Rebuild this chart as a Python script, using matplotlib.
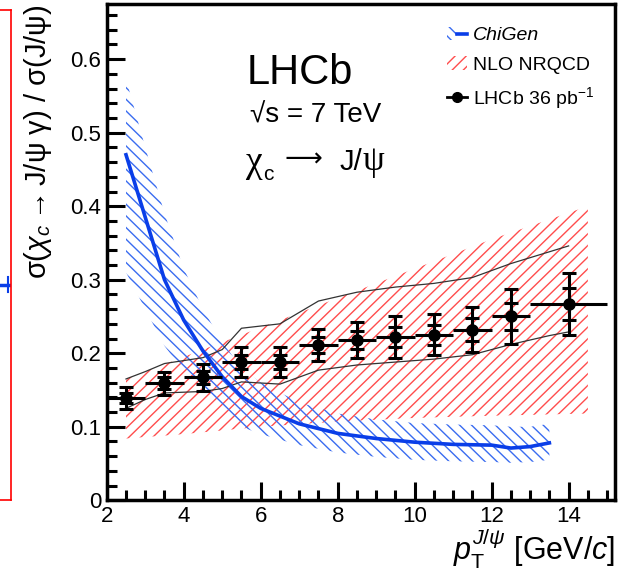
import numpy as np
import matplotlib
matplotlib.use("Agg")
import matplotlib.pyplot as plt
from matplotlib.ticker import MultipleLocator, FuncFormatter
from matplotlib.patches import Rectangle
from matplotlib.lines import Line2D
from matplotlib.legend_handler import HandlerTuple

plt.rcParams['font.family'] = ['Liberation Sans', 'DejaVu Sans']
plt.rcParams['mathtext.fontset'] = 'custom'
plt.rcParams['mathtext.rm'] = 'Liberation Sans'
plt.rcParams['mathtext.it'] = 'Liberation Sans:italic'
plt.rcParams['mathtext.sf'] = 'Liberation Sans'
plt.rcParams['hatch.linewidth'] = 1.0

# LHCb data points (chi_c -> J/psi gamma) / J/psi
pt_x = [2.5, 3.5, 4.5, 5.5, 6.5, 7.5, 8.5, 9.5, 10.5, 11.5, 12.5, 14.0]
pt_lo = [2, 3, 4, 5, 6, 7, 8, 9, 10, 11, 12, 13]
pt_hi = [3, 4, 5, 6, 7, 8, 9, 10, 11, 12, 13, 15]
ratio = [0.139, 0.159, 0.167, 0.188, 0.188, 0.211, 0.218, 0.222, 0.225, 0.232, 0.250, 0.267]
err_tot = [0.015, 0.016, 0.018, 0.020, 0.021, 0.022, 0.024, 0.028, 0.028, 0.031, 0.037, 0.042]
err_stat = [0.007, 0.008, 0.009, 0.010, 0.010, 0.011, 0.012, 0.014, 0.014, 0.016, 0.019, 0.022]

# ChiGen curve and band
chi_x = [2.5, 3.0, 3.5, 4.0, 4.5, 5.0, 5.5, 6.0, 7.0, 8.0, 9.0, 10.0, 11.0, 12.0, 12.5, 13.0, 13.5]
chi_c = [0.47, 0.385, 0.30, 0.245, 0.203, 0.168, 0.141, 0.125, 0.104, 0.091, 0.084, 0.079, 0.076, 0.075, 0.071, 0.073, 0.078]
chi_up = [0.573, 0.48, 0.39, 0.315, 0.26, 0.215, 0.18, 0.16, 0.133, 0.118, 0.110, 0.105, 0.103, 0.102, 0.100, 0.100, 0.104]
chi_dn = [0.31, 0.26, 0.21, 0.175, 0.145, 0.12, 0.10, 0.09, 0.075, 0.065, 0.059, 0.055, 0.053, 0.052, 0.051, 0.052, 0.055]

# NLO NRQCD band
nlo_x = [2.5, 4.0, 6.0, 8.0, 10.0, 12.0, 14.5]
nlo_dn = [0.084, 0.090, 0.100, 0.107, 0.112, 0.115, 0.118]
nlo_up = [0.165, 0.195, 0.235, 0.275, 0.315, 0.355, 0.400]

# thin black lines
bl_x = [2.5, 3.0, 3.5, 4.5, 5.0, 5.5, 6.5, 7.5, 8.5, 9.5, 10.5, 11.5, 12.5, 13.5, 14.0]
bl_up = [0.165, 0.175, 0.186, 0.194, 0.205, 0.234, 0.240, 0.271, 0.283, 0.290, 0.295, 0.303, 0.322, 0.338, 0.346]
bl_dn = [0.125, 0.137, 0.146, 0.148, 0.152, 0.161, 0.158, 0.177, 0.184, 0.188, 0.192, 0.198, 0.212, 0.224, 0.229]

RED = '#ff4d4d'
BLUE = '#3a6cf0'
LINE_BLUE = '#0a3ee8'


def hatch_fill(ax, poly, color, direction, spacing=0.0235, lw=1.0):
    """ Dessine des hachures dans le polygone (en coordonnees axes) """
    poly.set_facecolor('none')
    poly.set_edgecolor('none')
    for c in np.arange(-1.0, 1.0, spacing):
        if direction == '/':
            xs, ys = [c, c + 1.0], [0.0, 1.0]
        else:
            xs, ys = [c, c + 1.0], [1.0, 0.0]
        ln, = ax.plot(xs, ys, transform=ax.transAxes, color=color, lw=lw,
                      solid_capstyle='butt')
        ln.set_clip_path(poly.get_paths()[0], poly.get_transform())


fig = plt.figure(figsize=(6.28, 5.79), dpi=100)

# bout du graphique voisin a gauche
ax0 = fig.add_axes([-0.05, 0.136, 0.068, 0.846])
ax0.set_xlim(0, 1)
ax0.set_ylim(0, 1)
ax0.spines['left'].set_visible(False)
for s in ['right', 'bottom', 'top']:
    ax0.spines[s].set_color('red')
    ax0.spines[s].set_linewidth(1.2)
ax0.set_xticks([])
ax0.set_yticks([])
ax0.plot([0.6, 1.0], [0.44, 0.44], color=LINE_BLUE, lw=2.5)
ax0.plot([0.92, 0.92], [0.425, 0.455], color=LINE_BLUE, lw=1.5)

ax = fig.add_axes([0.170, 0.136, 0.809, 0.857])
ax.set_xlim(2, 15.2)
ax.set_ylim(0, 0.675)

# NLO NRQCD
nlo_poly = ax.fill_between(nlo_x, nlo_dn, nlo_up, zorder=1)
hatch_fill(ax, nlo_poly, RED, '/', lw=1.0)

# ChiGen
chi_poly = ax.fill_between(chi_x, chi_dn, chi_up, zorder=1)
hatch_fill(ax, chi_poly, BLUE, '\\', lw=1.0)
ax.plot(chi_x, chi_c, color=LINE_BLUE, lw=2.6, zorder=3)

ax.plot(bl_x, bl_up, color='#333333', lw=0.9, zorder=2)
ax.plot(bl_x, bl_dn, color='#333333', lw=0.9, zorder=2)

# data points
x = np.array(pt_x)
y = np.array(ratio)
xerr = [x - np.array(pt_lo), np.array(pt_hi) - x]
ax.errorbar(x, y, xerr=xerr, fmt='none', ecolor='black', elinewidth=2.2, capsize=0, zorder=5)
ax.errorbar(x, y, yerr=err_tot, fmt='none', ecolor='black', elinewidth=2.2,
            capsize=5, capthick=2.2, zorder=5)
ax.errorbar(x, y, yerr=err_stat, fmt='none', ecolor='black', elinewidth=2.2,
            capsize=5, capthick=2.2, zorder=5)
ax.plot(x, y, 'o', color='black', ms=8, zorder=6)

# axes style
ax.xaxis.set_major_locator(MultipleLocator(2))
ax.xaxis.set_minor_locator(MultipleLocator(0.5))
ax.yaxis.set_major_locator(MultipleLocator(0.1))
ax.yaxis.set_minor_locator(MultipleLocator(0.02))
ax.yaxis.set_major_formatter(FuncFormatter(lambda v, p: '0' if abs(v) < 1e-9 else '%.1f' % v))
ax.tick_params(which='both', direction='in', top=False, right=False, width=2.2)
ax.tick_params(which='major', length=13, labelsize=16, pad=4)
ax.tick_params(which='minor', length=7)
for s in ax.spines.values():
    s.set_linewidth(2.5)

ax.set_xlabel(r'$p_{\mathrm{T}}^{J/\psi}$ [GeV/$c$]', fontsize=22, loc='right', labelpad=0)
ax.set_ylabel(r'$\mathrm{\sigma}\left(\chi_{c}\rightarrow \mathrm{J/\psi\ \gamma}\right)\ /\ \mathrm{\sigma}\left(\mathrm{J/\psi}\right)$',
              fontsize=21, loc='top', labelpad=12)

# texts
ax.text(0.276, 0.838, 'LHCb', transform=ax.transAxes, fontsize=30)
ax.text(0.282, 0.762, '√s = 7 TeV', transform=ax.transAxes, fontsize=20)
# chi_c -> J/psi, en morceaux (lettres grecques en serif)
ax.text(0.272, 0.661, 'χ', transform=ax.transAxes, fontsize=27,
        family='Liberation Serif', va='baseline')
ax.text(0.308, 0.645, 'c', transform=ax.transAxes, fontsize=15, va='baseline')
ax.text(0.350, 0.672, '⟶', transform=ax.transAxes, fontsize=19,
        family='DejaVu Sans', va='baseline')
ax.text(0.459, 0.665, 'J/', transform=ax.transAxes, fontsize=21, va='baseline')
ax.text(0.503, 0.665, 'ψ', transform=ax.transAxes, fontsize=25,
        family='Liberation Serif', va='baseline')

# legend
h_chi = (Rectangle((0, 0), 1, 1, facecolor='none', edgecolor=BLUE, hatch='\\\\\\', lw=0),
         Line2D([0], [0], color=LINE_BLUE, lw=2.6))
h_nlo = Rectangle((0, 0), 1, 1, facecolor='none', edgecolor=RED, hatch='///', lw=0)
h_dat = Line2D([0], [0], color='black', marker='o', ms=7, lw=2)
leg = ax.legend([h_chi, h_nlo, h_dat], ['ChiGen', 'NLO NRQCD', 'LHCb 36 pb$^{-1}$'],
                handler_map={tuple: HandlerTuple(ndivide=None, pad=0)},
                loc='upper left', bbox_to_anchor=(0.655, 0.97), frameon=False,
                fontsize=14, handlelength=1.0, handletextpad=0.3, labelspacing=0.6,
                borderaxespad=0)
leg.get_texts()[0].set_style('italic')

fig.savefig('out.png', dpi=100)
